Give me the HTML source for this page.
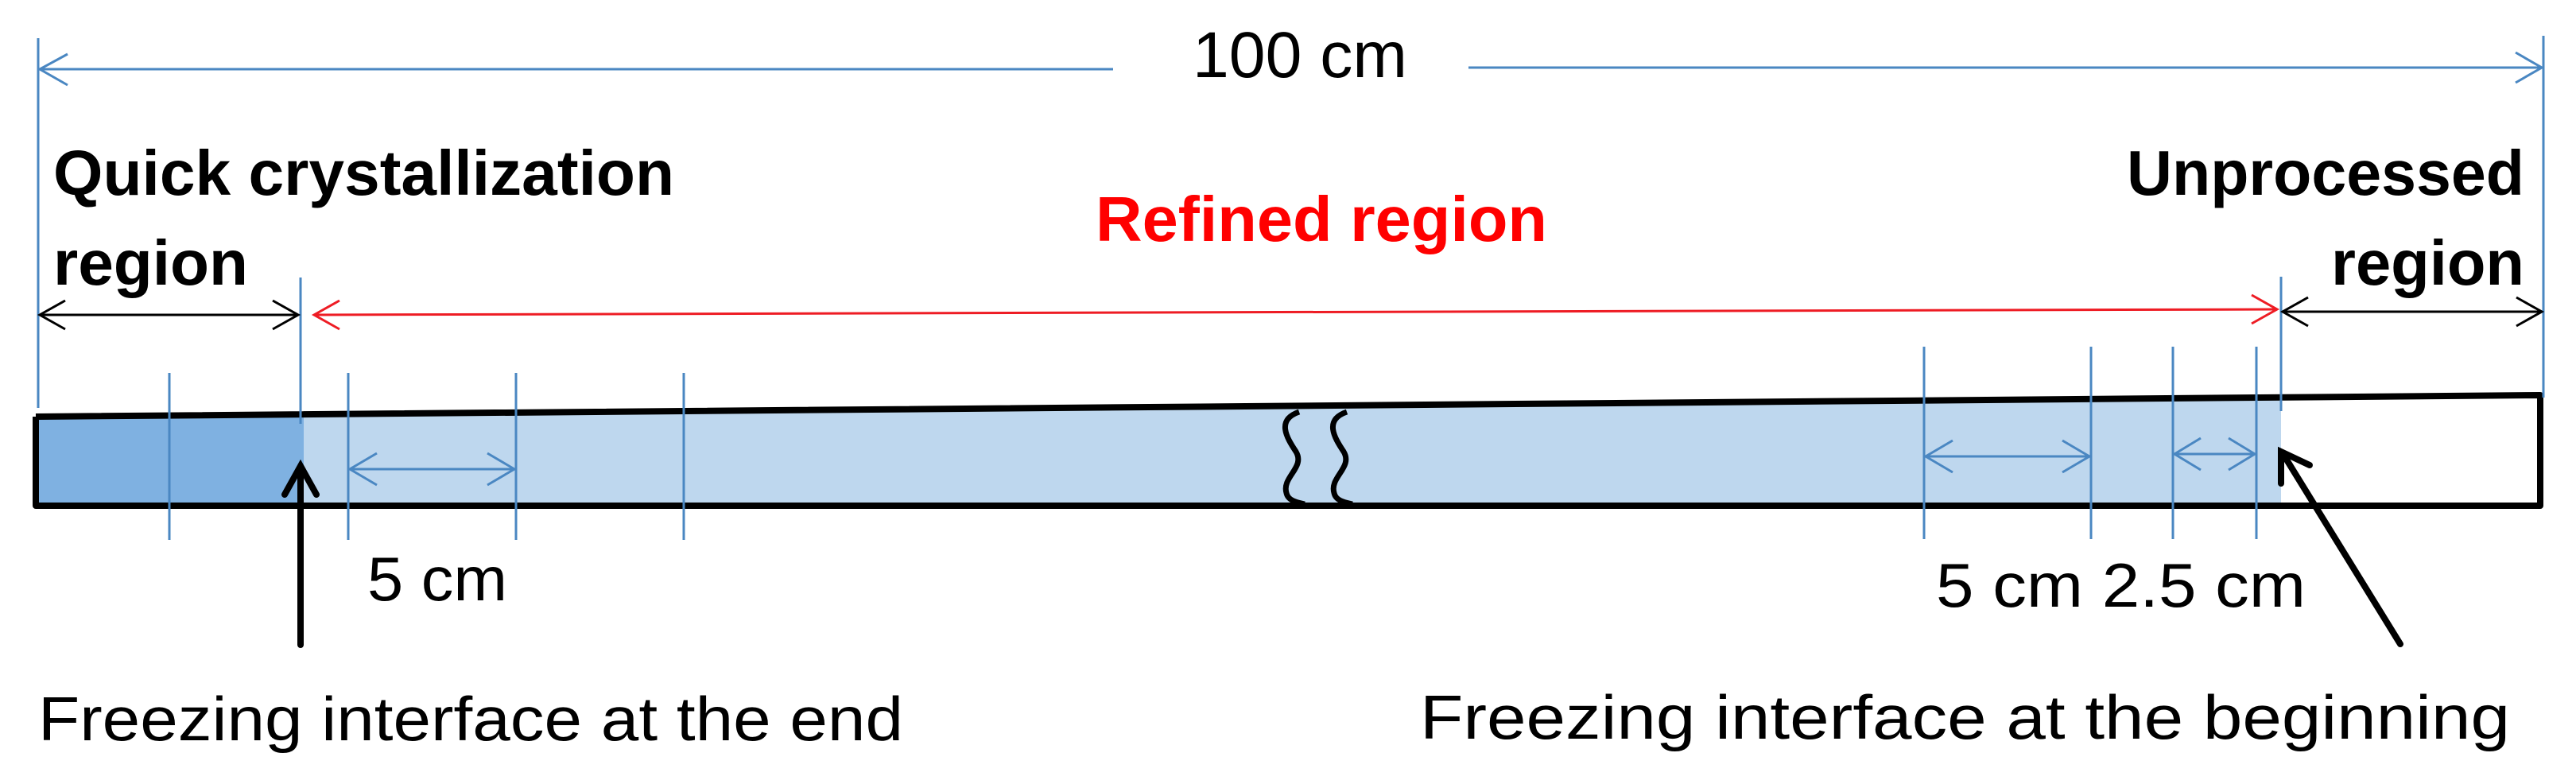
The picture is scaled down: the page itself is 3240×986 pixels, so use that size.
<!DOCTYPE html>
<html><head><meta charset="utf-8"><style>
html,body{margin:0;padding:0;background:#fff;}
svg{display:block;}
</style></head><body>
<svg width="3240" height="986" viewBox="0 0 3240 986" xmlns="http://www.w3.org/2000/svg">
<polygon points="45,524 382,521 382,636 45,636" fill="#7fb1e1"/>
<polygon points="382,521 2869,500 2869,636 382,636" fill="#bed7ee"/>
<polyline points="45,524 3195,497 3195,636 45,636 45,524" fill="none" stroke="#000" stroke-width="8" stroke-linejoin="round"/>
<path d="M1634,518 C1605,528 1618,550 1630,568 C1642,588 1612,600 1618,620 C1620,630 1632,632 1641,634" fill="none" stroke="#000" stroke-width="7"/>
<path d="M1694,518 C1665,528 1678,550 1690,568 C1702,588 1672,600 1678,620 C1680,630 1692,632 1701,634" fill="none" stroke="#000" stroke-width="7"/>

<g stroke="#4a87c2" stroke-width="3" fill="none">
<line x1="48" y1="48" x2="48" y2="513"/>
<line x1="3199" y1="45" x2="3199" y2="500"/>
<line x1="50" y1="87" x2="1400" y2="87"/>
<line x1="1847" y1="85" x2="3197" y2="85"/>
<polyline points="85,68 50,87 85,107"/>
<polyline points="3164,66 3197,85 3164,104"/>
<line x1="378" y1="349" x2="378" y2="533"/>
<line x1="2869" y1="348" x2="2869" y2="517"/>
<line x1="213" y1="469" x2="213" y2="679"/>
<line x1="438" y1="469" x2="438" y2="679"/>
<line x1="649" y1="469" x2="649" y2="679"/>
<line x1="860" y1="469" x2="860" y2="679"/>
<line x1="2420" y1="436" x2="2420" y2="678"/>
<line x1="2630" y1="436" x2="2630" y2="678"/>
<line x1="2733" y1="436" x2="2733" y2="678"/>
<line x1="2838" y1="436" x2="2838" y2="678"/>
<line x1="440" y1="590" x2="647" y2="590"/>
<polyline points="474,570 440,590 474,610"/>
<polyline points="613,570 647,590 613,610"/>
<line x1="2422" y1="574" x2="2628" y2="574"/>
<polyline points="2456,554 2422,574 2456,594"/>
<polyline points="2594,554 2628,574 2594,594"/>
<line x1="2735" y1="571" x2="2836" y2="571"/>
<polyline points="2768,551 2735,571 2768,591"/>
<polyline points="2803,551 2836,571 2803,591"/>
</g>

<g stroke="#000" stroke-width="3" fill="none">
<line x1="50" y1="396" x2="375" y2="396"/>
<polyline points="82,378 50,396 82,414"/>
<polyline points="343,378 375,396 343,414"/>
<line x1="2871" y1="392" x2="3197" y2="392"/>
<polyline points="2903,374 2871,392 2903,410"/>
<polyline points="3165,374 3197,392 3165,410"/>
</g>
<g stroke="#ee1c24" stroke-width="3" fill="none">
<line x1="395" y1="396" x2="2864" y2="389"/>
<polyline points="427,378 395,396 427,414"/>
<polyline points="2832,371 2864,389 2832,407"/>
</g>

<g stroke="#000" stroke-width="8" fill="none" stroke-linecap="round">
<line x1="378" y1="811" x2="378" y2="588"/>
<polyline points="358,622 378,586 398,622"/>
<line x1="3019" y1="810" x2="2871" y2="570"/>
<polyline points="2869,608 2869,568 2905,585"/>
</g>

<g font-family="'Liberation Sans', sans-serif">
<text x="1500" y="97" font-size="82" fill="#000" textLength="270" lengthAdjust="spacingAndGlyphs">100 cm</text>
<text x="67" y="245" font-size="80" font-weight="bold" fill="#000" textLength="781" lengthAdjust="spacingAndGlyphs">Quick crystallization</text>
<text x="67" y="358" font-size="80" font-weight="bold" fill="#000" textLength="245" lengthAdjust="spacingAndGlyphs">region</text>
<text x="1378" y="303" font-size="80" font-weight="bold" fill="#ff0000" textLength="568" lengthAdjust="spacingAndGlyphs">Refined region</text>
<text x="2675" y="245" font-size="80" font-weight="bold" fill="#000" textLength="500" lengthAdjust="spacingAndGlyphs">Unprocessed</text>
<text x="2932" y="358" font-size="80" font-weight="bold" fill="#000" textLength="243" lengthAdjust="spacingAndGlyphs">region</text>
<text x="462" y="755" font-size="78" fill="#000" textLength="176" lengthAdjust="spacingAndGlyphs">5 cm</text>
<text x="2435" y="763" font-size="78" fill="#000" textLength="465" lengthAdjust="spacingAndGlyphs">5 cm 2.5 cm</text>
<text x="48" y="931" font-size="78" fill="#000" textLength="1088" lengthAdjust="spacingAndGlyphs">Freezing interface at the end</text>
<text x="1786" y="929" font-size="78" fill="#000" textLength="1371" lengthAdjust="spacingAndGlyphs">Freezing interface at the beginning</text>
</g>
</svg>
</body></html>
